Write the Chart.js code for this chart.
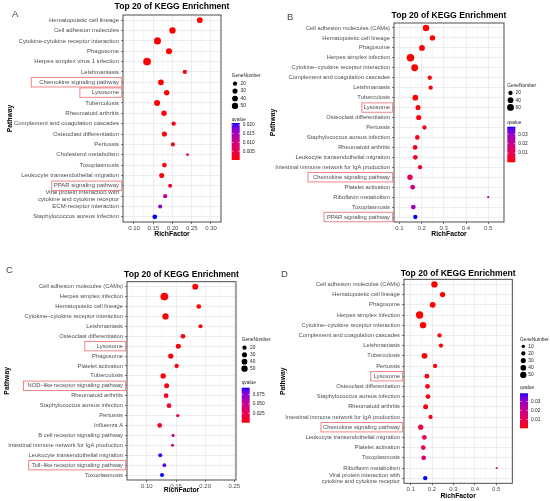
<!DOCTYPE html>
<html lang="en">
<head>
<meta charset="UTF-8">
<title>Top 20 of KEGG Enrichment</title>
<script src="https://cdn.jsdelivr.net/npm/chart.js"></script>
<style>
    body { margin: 0; background: #fff; }
    #wrap { position: relative; width: 550px; height: 501px; font-family: "Liberation Sans", Arial, sans-serif; }
    #wrap canvas { position: absolute; left: 0; top: 0; }
    .tag { position: absolute; font-size: 9.5px; line-height: 10px; color: #444; }
</style>
</head>
<body>
<div id="wrap">
    <canvas id="chartA" width="550" height="501"></canvas>
    <canvas id="chartB" width="550" height="501"></canvas>
    <canvas id="chartC" width="550" height="501"></canvas>
    <canvas id="chartD" width="550" height="501"></canvas>
    <div class="tag" style="left:12px;top:9px">A</div>
    <div class="tag" style="left:287px;top:12px">B</div>
    <div class="tag" style="left:6px;top:265px">C</div>
    <div class="tag" style="left:281px;top:269px">D</div>
</div>

<script>
// ---- panel A ----
const pathwaysA = ['Hematopoietic cell lineage', 'Cell adhesion molecules', 'Cytokine-cytokine receptor interaction',
    'Phagosome', 'Herpes simplex virus 1 infection', 'Leishmaniasis', 'Chemokine signaling pathway', 'Lysosome',
    'Tuberculosis', 'Rheumatoid arthritis', 'Complement and coagulation cascades', 'Osteoclast differentiation',
    'Pertussis', 'Cholesterol metabolism', 'Toxoplasmosis', 'Leukocyte transendothelial migration',
    'PPAR signaling pathway', ['Viral protein interaction with', 'cytokine and cytokine receptor'],
    'ECM-receptor interaction', 'Staphylococcus aureus infection'];
const richA = [0.271, 0.200, 0.161, 0.191, 0.134, 0.232, 0.170, 0.185, 0.160, 0.178,
    0.203, 0.179, 0.201, 0.239, 0.179, 0.172, 0.194, 0.181, 0.168, 0.154];
const genesA = [40, 50, 64, 45, 79, 20, 40, 35, 45, 35, 20, 30, 17, 6, 25, 30, 17, 17, 17, 25];
const qvalA = [0.0001, 0.0001, 0.0001, 0.0002, 0.0001, 0.0003, 0.0003, 0.0003, 0.0002, 0.0004,
    0.0004, 0.0005, 0.0008, 0.0030, 0.0008, 0.0007, 0.0030, 0.0120, 0.0165, 0.0210];
const ticksA = [0.10, 0.15, 0.20, 0.25, 0.30];
const minorA = [0.075, 0.125, 0.175, 0.225, 0.275, 0.325];
const geneBreaksA = [20, 30, 40, 50];
const qBreaksA = [0.005, 0.010, 0.015, 0.020];
const boxedA = ['Chemokine signaling pathway', 'Lysosome', 'PPAR signaling pathway'];

// ---- panel B ----
const pathwaysB = ['Cell adhesion molecules (CAMs)', 'Hematopoietic cell lineage', 'Phagosome', 'Herpes simplex infection',
    'Cytokine\u2212cytokine receptor interaction', 'Complement and coagulation cascades', 'Leishmaniasis', 'Tuberculosis',
    'Lysosome', 'Osteoclast differentiation', 'Pertussis', 'Staphylococcus aureus infection', 'Rheumatoid arthritis',
    'Leukocyte transendothelial migration', 'Intestinal immune network for IgA production', 'Chemokine signaling pathway',
    'Platelet activation', 'Riboflavin metabolism', 'Toxoplasmosis', 'PPAR signaling pathway'];
const richB = [0.220, 0.249, 0.202, 0.150, 0.169, 0.237, 0.241, 0.172, 0.184, 0.187,
    0.213, 0.181, 0.171, 0.172, 0.193, 0.148, 0.160, 0.500, 0.163, 0.172];
const genesB = [52, 34, 41, 74, 60, 20, 20, 41, 30, 30, 20, 25, 25, 25, 20, 34, 25, 3, 25, 20];
const qvalB = [0.0001, 0.0001, 0.0001, 0.0001, 0.0001, 0.0003, 0.0003, 0.0004, 0.0005, 0.0006,
    0.0020, 0.0022, 0.0025, 0.0028, 0.0045, 0.0090, 0.0190, 0.0230, 0.0280, 0.0380];
const ticksB = [0.1, 0.2, 0.3, 0.4, 0.5];
const minorB = [0.15, 0.25, 0.35, 0.45, 0.55];
const geneBreaksB = [20, 40, 60];
const qBreaksB = [0.01, 0.02, 0.03];
const boxedB = ['Lysosome', 'Chemokine signaling pathway', 'PPAR signaling pathway'];

// ---- panel C ----
const pathwaysC = ['Cell adhesion molecules (CAMs)', 'Herpes simplex infection', 'Hematopoietic cell lineage',
    'Cytokine\u2212cytokine receptor interaction', 'Leishmaniasis', 'Osteoclast differentiation', 'Lysosome', 'Phagosome',
    'Platelet activation', 'Tuberculosis', 'NOD\u2212like receptor signaling pathway', 'Rheumatoid arthritis',
    'Staphylococcus aureus infection', 'Pertussis', 'Influenza A', 'B cell receptor signaling pathway',
    'Intestinal immune network for IgA production', 'Leukocyte transendothelial migration',
    'Toll\u2212like receptor signaling pathway', 'Toxoplasmosis'];
const richC = [0.183, 0.130, 0.189, 0.132, 0.192, 0.162, 0.154, 0.141, 0.151, 0.128,
    0.134, 0.133, 0.138, 0.153, 0.122, 0.145, 0.144, 0.123, 0.130, 0.126];
const genesC = [45, 79, 25, 50, 17, 25, 29, 33, 20, 33, 29, 25, 25, 10, 25, 8, 8, 17, 14, 17];
const qvalC = [0.0002, 0.0001, 0.0004, 0.0002, 0.0008, 0.0010, 0.0012, 0.0015, 0.0018, 0.0020,
    0.0040, 0.0080, 0.0130, 0.0190, 0.0100, 0.0420, 0.0430, 0.0880, 0.0840, 0.0930];
const ticksC = [0.10, 0.15, 0.20, 0.25];
const minorC = [0.075, 0.125, 0.175, 0.225];
const geneBreaksC = [20, 30, 40, 50];
const qBreaksC = [0.025, 0.050, 0.075];
const boxedC = ['Lysosome', 'NOD\u2212like receptor signaling pathway', 'Toll\u2212like receptor signaling pathway'];

// ---- panel D ----
const pathwaysD = ['Cell adhesion molecules (CAMs)', 'Hematopoietic cell lineage', 'Phagosome', 'Herpes simplex infection',
    'Cytokine\u2212cytokine receptor interaction', 'Complement and coagulation cascades', 'Leishmaniasis', 'Tuberculosis',
    'Pertussis', 'Lysosome', 'Osteoclast differentiation', 'Staphylococcus aureus infection', 'Rheumatoid arthritis',
    'Intestinal immune network for IgA production', 'Chemokine signaling pathway', 'Leukocyte transendothelial migration',
    'Platelet activation', 'Toxoplasmosis', 'Riboflavin metabolism',
    ['Viral protein interaction with', 'cytokine and cytokine receptor']];
const richD = [0.211, 0.249, 0.203, 0.142, 0.158, 0.235, 0.242, 0.165, 0.214, 0.176,
    0.179, 0.181, 0.170, 0.193, 0.147, 0.164, 0.159, 0.161, 0.502, 0.168];
const genesD = [50, 33, 40, 70, 50, 20, 20, 40, 20, 25, 25, 25, 29, 20, 33, 25, 25, 25, 3, 20];
const qvalD = [0.0001, 0.0001, 0.0001, 0.0001, 0.0001, 0.0003, 0.0003, 0.0004, 0.0005, 0.0006,
    0.0007, 0.0008, 0.0010, 0.0030, 0.0075, 0.0085, 0.0100, 0.0130, 0.0190, 0.0390];
const ticksD = [0.1, 0.2, 0.3, 0.4, 0.5];
const minorD = [0.15, 0.25, 0.35, 0.45, 0.55];
const geneBreaksD = [10, 20, 30, 40, 50];
const qBreaksD = [0.01, 0.02, 0.03];
const boxedD = ['Lysosome', 'Chemokine signaling pathway'];

const FONT = '"Liberation Sans", Arial, sans-serif';

// bubble radius (px) from gene count, area-like like ggplot's size scale
const sizeOf = g => (0.86 + 0.77 * Math.sqrt(g)) / 2;

// red -> blue gradient interpolated in Lab, as ggplot does
function toLab([r, g, b]) {
    const lin = c => { c /= 255; return c <= 0.04045 ? c / 12.92 : Math.pow((c + 0.055) / 1.055, 2.4); };
    const R = lin(r), G = lin(g), B = lin(b);
    const f = t => t > 0.008856 ? Math.cbrt(t) : 7.787 * t + 16 / 116;
    const fx = f((0.4124 * R + 0.3576 * G + 0.1805 * B) / 0.95047);
    const fy = f(0.2126 * R + 0.7152 * G + 0.0722 * B);
    const fz = f((0.0193 * R + 0.1192 * G + 0.9505 * B) / 1.08883);
    return [116 * fy - 16, 500 * (fx - fy), 200 * (fy - fz)];
}
function fromLab([L, a, b]) {
    const fy = (L + 16) / 116, fx = fy + a / 500, fz = fy - b / 200;
    const inv = t => t * t * t > 0.008856 ? t * t * t : (t - 16 / 116) / 7.787;
    const X = inv(fx) * 0.95047, Y = inv(fy), Z = inv(fz) * 1.08883;
    const gam = c => {
        c = Math.max(0, Math.min(1, c));
        return Math.round(255 * (c <= 0.0031308 ? 12.92 * c : 1.055 * Math.pow(c, 1 / 2.4) - 0.055));
    };
    return 'rgb(' + gam(3.2406 * X - 1.5372 * Y - 0.4986 * Z) + ',' +
        gam(-0.9689 * X + 1.8758 * Y + 0.0415 * Z) + ',' +
        gam(0.0557 * X - 0.2040 * Y + 1.0570 * Z) + ')';
}
const LOW = toLab([255, 0, 0]), HIGH = toLab([0, 0, 255]);
const qColor = t => fromLab(LOW.map((v, i) => v + (HIGH[i] - v) * t));

// title, border, highlight boxes and the two legends
const decor = {
    id: 'keggDecor',
    afterDatasetsDraw(chart, args, o) {
        const { ctx, chartArea: a } = chart;
        ctx.save();
        ctx.strokeStyle = '#3a3a3a';
        ctx.lineWidth = 0.9;
        ctx.strokeRect(a.left, a.top, a.right - a.left, a.bottom - a.top);
        ctx.restore();
    },
    afterDraw(chart, args, o) {
        const { ctx, chartArea: a } = chart;
        const yScale = chart.scales.y;
        const L = o.L, d = o.d;
        ctx.save();
        ctx.textBaseline = 'middle';

        ctx.font = 'bold 8.6px ' + FONT;
        ctx.fillStyle = '#000';
        ctx.textAlign = 'center';
        ctx.fillText('Top 20 of KEGG Enrichment', (a.left + a.right) / 2, L.titleY);

        // red boxes round highlighted pathways
        ctx.font = L.yFont + 'px ' + FONT;
        ctx.strokeStyle = '#ef8585';
        ctx.lineWidth = 1;
        d.boxed.forEach((name, k) => {
            const yc = yScale.getPixelForValue(d.names.indexOf(name));
            const w = ctx.measureText(name).width;
            const right = a.left - 1.3;
            const left = a.left - 4 - w - L.boxPad[k];
            ctx.strokeRect(left, yc - 4.7, right - left, 9.4);
        });

        // GeneNumber legend
        ctx.textAlign = 'left';
        ctx.fillStyle = '#222';
        ctx.font = '4.8px ' + FONT;
        ctx.fillText('GeneNumber', L.gx, L.gTitleY);
        d.geneBreaks.forEach((g, k) => {
            const y = L.gy0 + k * L.gStep;
            ctx.fillStyle = '#000';
            ctx.beginPath();
            ctx.arc(L.gcx, y, sizeOf(g), 0, Math.PI * 2);
            ctx.fill();
            ctx.fillStyle = '#222';
            ctx.fillText(String(g), L.glx, y);
        });

        // qvalue colour bar
        const qMin = Math.min(...d.q), qMax = Math.max(...d.q);
        ctx.fillText('qvalue', L.gx, L.qTitleY);
        const grad = ctx.createLinearGradient(0, L.barBot, 0, L.barTop);
        for (let k = 0; k <= 20; k++) grad.addColorStop(k / 20, qColor(k / 20));
        ctx.fillStyle = grad;
        ctx.fillRect(L.gx, L.barTop, 8, L.barBot - L.barTop);
        d.qBreaks.forEach(b => {
            const y = L.barBot - (b - qMin) / (qMax - qMin) * (L.barBot - L.barTop);
            ctx.strokeStyle = '#fff';
            ctx.lineWidth = 0.5;
            ctx.beginPath();
            ctx.moveTo(L.gx, y); ctx.lineTo(L.gx + 1.6, y);
            ctx.moveTo(L.gx + 8, y); ctx.lineTo(L.gx + 6.4, y);
            ctx.stroke();
            ctx.fillStyle = '#222';
            ctx.fillText(b.toFixed(L.qDigits), L.gx + 11, y);
        });
        ctx.restore();
    }
};

function makeChart(d, L) {
    const qMin = Math.min(...d.q), qMax = Math.max(...d.q);
    const points = d.rich.map((x, i) => ({ x: x, y: i, r: sizeOf(d.genes[i]) }));
    const colors = d.q.map(v => qColor((v - qMin) / (qMax - qMin)));
    const xH = 18;
    const allTicks = d.ticks.concat(d.minor).sort((p, q) => p - q);
    const isMajor = c => c.tick && d.ticks.includes(c.tick.value);

    return new Chart(document.getElementById(L.id), {
        type: 'bubble',
        data: {
            labels: d.names,
            datasets: [{ data: points, backgroundColor: colors, borderWidth: 0, hoverRadius: 0 }]
        },
        options: {
            responsive: false,
            animation: false,
            events: [],
            layout: {
                padding: { left: L.left, top: L.plot.t, right: 550 - L.plot.r, bottom: 501 - L.plot.b - xH }
            },
            plugins: {
                legend: { display: false },
                tooltip: { enabled: false },
                keggDecor: { L: L, d: d }
            },
            scales: {
                x: {
                    type: 'linear',
                    min: L.xMin,
                    max: L.xMax,
                    afterFit: s => { s.height = xH; },
                    afterBuildTicks: s => { s.ticks = allTicks.map(v => ({ value: v })); },
                    ticks: {
                        autoSkip: false, maxRotation: 0, padding: 0.5, color: '#4d4d4d',
                        font: { family: FONT, size: 6 },
                        callback: v => d.ticks.includes(v) ? v.toFixed(L.xDigits) : ''
                    },
                    grid: {
                        color: c => isMajor(c) ? '#e6e6e6' : '#f1f1f1',
                        lineWidth: c => isMajor(c) ? 0.7 : 0.5,
                        tickLength: 2,
                        tickColor: c => isMajor(c) ? '#444' : 'rgba(0,0,0,0)'
                    },
                    border: { display: false },
                    title: {
                        display: true, text: 'RichFactor', color: '#000',
                        font: { family: FONT, size: 6.8, weight: 'bold' },
                        padding: { top: 0, bottom: L.xTitlePad }
                    }
                },
                y: {
                    type: 'category',
                    offset: true,
                    afterFit: s => { s.width = L.plot.l - L.left; },
                    ticks: {
                        autoSkip: false, padding: 2, color: '#4d4d4d',
                        font: { family: FONT, size: L.yFont, lineHeight: 1.1 }
                    },
                    grid: { color: '#e6e6e6', lineWidth: 0.7, tickLength: 2, tickColor: '#444' },
                    border: { display: false },
                    title: {
                        display: true, text: 'Pathway', color: '#000',
                        font: { family: FONT, size: 6.8, weight: 'bold' },
                        padding: { top: L.yTitlePad, bottom: 0 }
                    }
                }
            }
        },
        plugins: [decor]
    });
}

makeChart(
    { names: pathwaysA, rich: richA, genes: genesA, q: qvalA, ticks: ticksA, minor: minorA,
      geneBreaks: geneBreaksA, qBreaks: qBreaksA, boxed: boxedA },
    { id: 'chartA', left: 0, plot: { l: 123, r: 221, t: 15, b: 222 }, xMin: 0.0715, xMax: 0.326, xDigits: 2,
      yFont: 6, titleY: 7, yTitlePad: 5.9, xTitlePad: 2.2, boxPad: [8, 12, 2],
      gx: 231.7, gTitleY: 76, gcx: 235, glx: 240.5, gy0: 83.7, gStep: 7.4,
      qTitleY: 119.5, barTop: 123, barBot: 160, qDigits: 3 });

makeChart(
    { names: pathwaysB, rich: richB, genes: genesB, q: qvalB, ticks: ticksB, minor: minorB,
      geneBreaks: geneBreaksB, qBreaks: qBreaksB, boxed: boxedB },
    { id: 'chartB', left: 265, plot: { l: 394, r: 504, t: 23, b: 222 }, xMin: 0.076, xMax: 0.571, xDigits: 1,
      yFont: 5.8, titleY: 15.7, yTitlePad: 3.9, xTitlePad: 1.9, boxPad: [2, 5, 3],
      gx: 507.3, gTitleY: 86, gcx: 510.5, glx: 515.5, gy0: 93, gStep: 7.2,
      qTitleY: 122.7, barTop: 126.7, barBot: 162.3, qDigits: 2 });

makeChart(
    { names: pathwaysC, rich: richC, genes: genesC, q: qvalC, ticks: ticksC, minor: minorC,
      geneBreaks: geneBreaksC, qBreaks: qBreaksC, boxed: boxedC },
    { id: 'chartC', left: 0, plot: { l: 127, r: 236, t: 281.7, b: 480 }, xMin: 0.066, xMax: 0.2528, xDigits: 2,
      yFont: 5.8, titleY: 274.3, yTitlePad: 2.6, xTitlePad: 3.9, boxPad: [12, 4, 3],
      gx: 241.7, gTitleY: 340, gcx: 244.5, glx: 250, gy0: 347.7, gStep: 7,
      qTitleY: 382.7, barTop: 387.7, barBot: 422.7, qDigits: 3 });

makeChart(
    { names: pathwaysD, rich: richD, genes: genesD, q: qvalD, ticks: ticksD, minor: minorD,
      geneBreaks: geneBreaksD, qBreaks: qBreaksD, boxed: boxedD },
    { id: 'chartD', left: 275, plot: { l: 404, r: 512.3, t: 279.3, b: 483.3 }, xMin: 0.069, xMax: 0.575, xDigits: 1,
      yFont: 5.8, titleY: 274, yTitlePad: 4.2, xTitlePad: 1.5, boxPad: [3, 2],
      gx: 520, gTitleY: 339.3, gcx: 523.3, glx: 528.3, gy0: 346.3, gStep: 7.15,
      qTitleY: 387.7, barTop: 393.3, barBot: 428.3, qDigits: 2 });
</script>
</body>
</html>
